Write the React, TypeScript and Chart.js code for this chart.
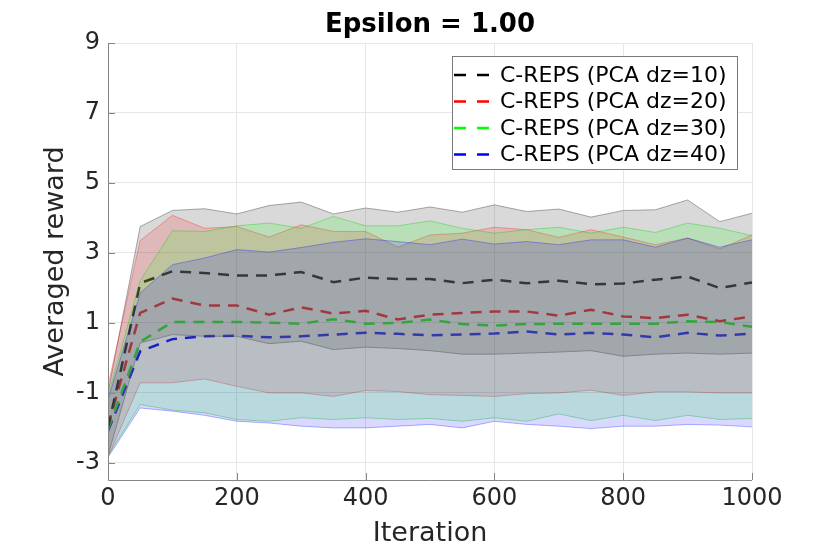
import React, { useEffect, useRef } from "react";
import { Chart, registerables } from "chart.js";

Chart.register(...registerables);

const iterations = [0, 50, 100, 150, 200, 250, 300, 350, 400, 450, 500, 550, 600, 650, 700, 750, 800, 850, 900, 950, 1000];

const seriesLabels = ["C-REPS (PCA dz=10)", "C-REPS (PCA dz=20)", "C-REPS (PCA dz=30)", "C-REPS (PCA dz=40)"];

const meanDz10 = [-2.0, 2.13, 2.47, 2.42, 2.35, 2.35, 2.45, 2.16, 2.29, 2.25, 2.25, 2.13, 2.23, 2.13, 2.2, 2.1, 2.12, 2.23, 2.32, 1.99, 2.15];
const meanDz20 = [-1.95, 1.28, 1.69, 1.49, 1.49, 1.23, 1.44, 1.26, 1.34, 1.09, 1.23, 1.28, 1.32, 1.32, 1.2, 1.37, 1.18, 1.13, 1.23, 1.04, 1.18];
const meanDz30 = [-2.05, 0.45, 1.02, 1.02, 1.02, 1.0, 0.97, 1.1, 0.97, 0.99, 1.09, 0.96, 0.92, 0.96, 0.97, 0.97, 0.97, 0.97, 1.04, 1.02, 0.88];
const meanDz40 = [-2.1, 0.18, 0.53, 0.61, 0.63, 0.58, 0.61, 0.66, 0.71, 0.68, 0.64, 0.66, 0.69, 0.75, 0.66, 0.71, 0.66, 0.58, 0.71, 0.63, 0.69];

const upperDz10 = [-1.0, 3.75, 4.21, 4.26, 4.11, 4.35, 4.45, 4.11, 4.28, 4.16, 4.31, 4.16, 4.37, 4.18, 4.25, 4.02, 4.21, 4.23, 4.51, 3.89, 4.13];
const upperDz20 = [-0.8, 3.35, 4.07, 3.7, 3.75, 3.45, 3.8, 3.61, 3.61, 3.16, 3.51, 3.56, 3.73, 3.66, 3.44, 3.66, 3.45, 3.23, 3.42, 3.11, 3.51];
const upperDz30 = [-1.1, 2.2, 3.63, 3.61, 3.77, 3.85, 3.7, 4.04, 3.77, 3.77, 3.91, 3.7, 3.56, 3.66, 3.73, 3.56, 3.73, 3.58, 3.85, 3.7, 3.49];
const upperDz40 = [-1.2, 1.85, 2.66, 2.85, 3.09, 3.02, 3.15, 3.3, 3.4, 3.32, 3.23, 3.39, 3.25, 3.32, 3.23, 3.37, 3.37, 3.16, 3.42, 3.16, 3.37];

const lowerDz10 = [-2.8, 0.42, 0.66, 0.61, 0.61, 0.4, 0.47, 0.23, 0.3, 0.26, 0.2, 0.1, 0.1, 0.13, 0.16, 0.2, 0.04, 0.1, 0.13, 0.1, 0.13];
const lowerDz20 = [-2.85, -0.72, -0.72, -0.61, -0.82, -1.01, -1.01, -1.11, -0.94, -0.97, -1.06, -1.08, -1.11, -1.03, -1.01, -0.93, -1.08, -0.98, -0.98, -1.01, -1.01];
const lowerDz30 = [-2.8, -1.34, -1.5, -1.58, -1.77, -1.82, -1.72, -1.77, -1.72, -1.77, -1.74, -1.82, -1.72, -1.82, -1.61, -1.8, -1.65, -1.8, -1.65, -1.77, -1.74];
const lowerDz40 = [-2.85, -1.44, -1.53, -1.65, -1.82, -1.87, -1.96, -2.01, -2.01, -1.96, -1.91, -2.01, -1.82, -1.91, -1.96, -2.03, -1.96, -1.96, -1.91, -1.93, -1.98];

const yTicks = [-3, -1, 1, 3, 5, 7, 9];
const xTickStep = 200;

const lineColors = ["#000000", "#ff0000", "#00ff00", "#0000ff"];
const fillColors = ["rgba(128,128,128,0.3)", "rgba(255,0,0,0.15)", "rgba(0,255,0,0.15)", "rgba(0,0,255,0.15)"];
const edgeColors = ["rgba(70,70,70,0.45)", "rgba(255,0,0,0.3)", "rgba(0,200,0,0.35)", "rgba(0,0,255,0.3)"];

const FONT = "'DejaVu Sans', sans-serif";

export default function App() {
  const ref = useRef<HTMLCanvasElement | null>(null);

  useEffect(() => {
    document.body.style.margin = "0";
    const canvas = ref.current;
    if (!canvas) return;

    const means = [meanDz10, meanDz20, meanDz30, meanDz40];
    const uppers = [upperDz10, upperDz20, upperDz30, upperDz40];
    const lowers = [lowerDz10, lowerDz20, lowerDz30, lowerDz40];
    const pts = (arr: number[]) => iterations.map((x, i) => ({ x, y: arr[i] }));

    const datasets: any[] = [];
    for (let k = 0; k < 4; k++) {
      datasets.push({
        label: seriesLabels[k],
        data: pts(means[k]),
        borderColor: lineColors[k],
        borderWidth: 2.5,
        borderDash: [11, 8],
        pointRadius: 0,
        fill: false,
        tension: 0,
        order: 100,
      });
    }
    for (let k = 0; k < 4; k++) {
      const upperIndex = datasets.length;
      datasets.push({
        label: seriesLabels[k] + " upper",
        data: pts(uppers[k]),
        borderColor: edgeColors[k],
        borderWidth: 1,
        pointRadius: 0,
        backgroundColor: fillColors[k],
        fill: { target: upperIndex + 1 },
        tension: 0,
        order: 40 - k * 10,
      });
      datasets.push({
        label: seriesLabels[k] + " lower",
        data: pts(lowers[k]),
        borderColor: edgeColors[k],
        borderWidth: 1,
        pointRadius: 0,
        fill: false,
        tension: 0,
        order: 40 - k * 10,
      });
    }

    const decorations = {
      id: "decorations",
      afterDatasetsDraw(chart: any) {
        const { ctx, chartArea, scales } = chart;
        ctx.save();
        ctx.strokeStyle = "#858585";
        ctx.lineWidth = 1;
        ctx.beginPath();
        ctx.moveTo(chartArea.left + 0.5, chartArea.top);
        ctx.lineTo(chartArea.left + 0.5, chartArea.bottom + 0.5);
        ctx.lineTo(chartArea.right, chartArea.bottom + 0.5);
        ctx.stroke();
        scales.y.ticks.forEach((t: any) => {
          const py = Math.round(scales.y.getPixelForValue(t.value)) + 0.5;
          ctx.beginPath();
          ctx.moveTo(chartArea.left, py);
          ctx.lineTo(chartArea.left + 7, py);
          ctx.stroke();
        });
        scales.x.ticks.forEach((t: any) => {
          const px = Math.round(scales.x.getPixelForValue(t.value)) + 0.5;
          ctx.beginPath();
          ctx.moveTo(px, chartArea.bottom);
          ctx.lineTo(px, chartArea.bottom - 7);
          ctx.stroke();
        });
        ctx.restore();
      },
      afterDraw(chart: any) {
        const { ctx, chartArea } = chart;
        const cx = (chartArea.left + chartArea.right) / 2;
        const cy = (chartArea.top + chartArea.bottom) / 2;
        ctx.save();
        ctx.fillStyle = "#000";
        ctx.font = `bold 26px ${FONT}`;
        ctx.textAlign = "center";
        ctx.textBaseline = "alphabetic";
        ctx.fillText("Epsilon = 1.00", cx, 32);
        ctx.fillStyle = "#262626";
        ctx.font = `27px ${FONT}`;
        ctx.textBaseline = "middle";
        ctx.fillText("Iteration", cx, 534);
        ctx.save();
        ctx.translate(56, cy);
        ctx.rotate(-Math.PI / 2);
        ctx.fillText("Averaged reward", 0, 0);
        ctx.restore();
        const bx = 452.5, by = 56.5, bw = 285, bh = 113;
        ctx.fillStyle = "#ffffff";
        ctx.fillRect(bx, by, bw, bh);
        ctx.strokeStyle = "#7a7a7a";
        ctx.lineWidth = 1;
        ctx.strokeRect(bx, by, bw, bh);
        ctx.font = `22px ${FONT}`;
        ctx.textAlign = "left";
        ctx.textBaseline = "middle";
        seriesLabels.forEach((lab, k) => {
          const ly = 75 + k * 26.5;
          ctx.save();
          ctx.strokeStyle = lineColors[k];
          ctx.lineWidth = 2.5;
          ctx.setLineDash([12, 11]);
          ctx.beginPath();
          ctx.moveTo(454, ly);
          ctx.lineTo(489, ly);
          ctx.stroke();
          ctx.restore();
          ctx.fillStyle = "#000";
          ctx.fillText(lab, 500, ly + 1);
        });
        ctx.restore();
      },
    };

    const chart = new Chart(canvas, {
      type: "line",
      data: { datasets },
      options: {
        responsive: false,
        animation: false,
        devicePixelRatio: 1,
        events: [],
        layout: { padding: { left: 0, right: 78, top: 43, bottom: 0 } },
        plugins: {
          legend: { display: false },
          tooltip: { enabled: false },
          title: { display: false },
        },
        scales: {
          x: {
            type: "linear",
            min: 0,
            max: 1000,
            ticks: {
              stepSize: xTickStep,
              font: { family: FONT, size: 24 },
              color: "#262626",
              padding: 4,
              maxRotation: 0,
              callback: (v: any) => String(v),
            },
            grid: { color: "#e6e6e6", drawTicks: false },
            border: { display: false },
            afterFit: (s: any) => {
              s.height = 71;
            },
          },
          y: {
            type: "linear",
            min: -3.5,
            max: 9,
            afterBuildTicks: (s: any) => {
              s.ticks = yTicks.map((v) => ({ value: v }));
            },
            ticks: {
              font: { family: FONT, size: 24 },
              color: "#262626",
              padding: 8,
              callback: (v: any) => String(v),
            },
            grid: { color: "#e6e6e6", drawTicks: false },
            border: { display: false },
            afterFit: (s: any) => {
              s.width = 108;
            },
          },
        },
      } as any,
      plugins: [decorations],
    });

    return () => chart.destroy();
  }, []);

  return (
    <div style={{ width: 830, height: 551 }}>
      <canvas ref={ref} width={830} height={551} style={{ width: 830, height: 551, display: "block" }} />
    </div>
  );
}
